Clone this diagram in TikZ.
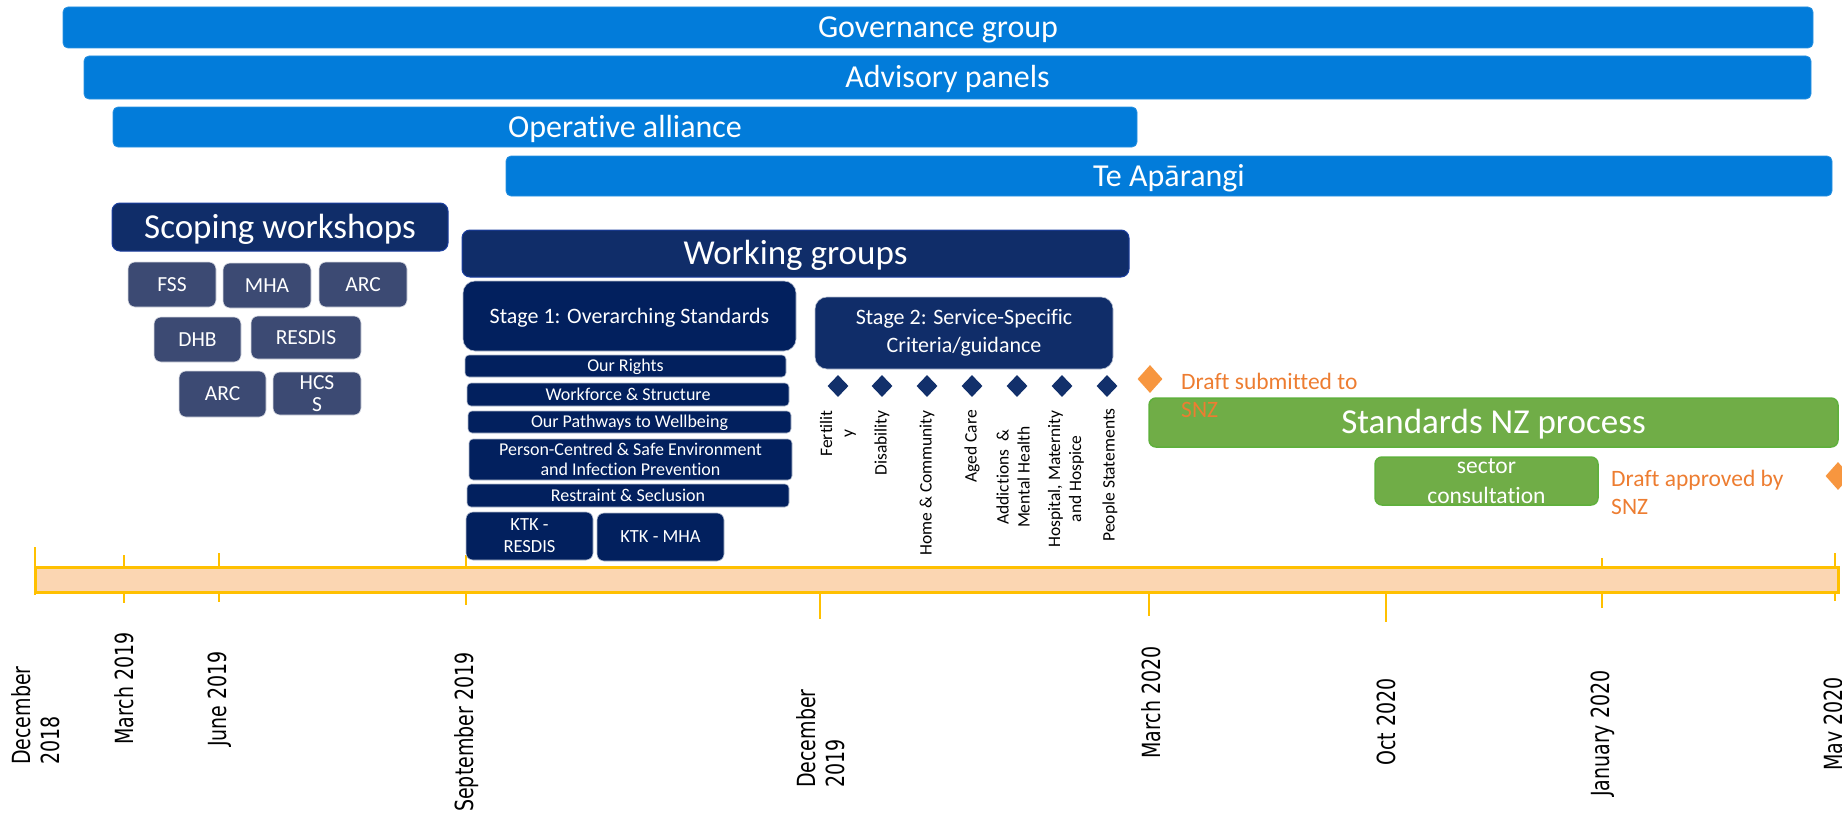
\documentclass[tikz,border=0pt]{standalone}
\usepackage{fontspec}
\setmainfont[Ligatures={NoCommon}]{Carlito}
\newfontfamily\axisfont[FakeStretch=0.76]{DejaVu Sans}
\usetikzlibrary{shapes.geometric}
\definecolor{barblue}{HTML}{027CDA}
\definecolor{navyA}{HTML}{102D69}
\definecolor{navyB}{HTML}{02205E}
\definecolor{navyline}{HTML}{1C3FA0}
\definecolor{slate}{HTML}{3C4A73}
\definecolor{gfill}{HTML}{70AD47}
\definecolor{gline}{HTML}{5FB03C}
\definecolor{odiam}{HTML}{F7963F}
\definecolor{otxt}{HTML}{ED7D31}
\definecolor{peach}{HTML}{FBD6B2}
\definecolor{gold}{HTML}{FFC000}
\definecolor{dnavy}{HTML}{12306B}
\newcommand\myfs[2]{\fontsize{#1}{#2}\selectfont}
\begin{document}
\begin{tikzpicture}[x=1pt,y=-1pt,
  wh/.style 2 args={minimum width=#1pt,minimum height=#2pt},
  bluebar/.style={fill=barblue,draw=barblue!85!white,line width=0.8pt,rounded corners=5pt,text=white,inner sep=0pt,font=\myfs{32}{38},text height=20.6pt,text depth=0pt},
  bigbox/.style={fill=navyA,draw=navyline,line width=1pt,rounded corners=8pt,text=white,inner sep=0pt,font=\myfs{35}{40},text height=22.5pt,text depth=0pt},
  slatebox/.style={fill=slate,draw=white!80!slate,line width=0.6pt,rounded corners=7pt,text=white,inner sep=0pt,align=center,font=\myfs{21.5}{22}},
  one/.style={text height=#1pt,text depth=0pt},
  stagebox/.style={fill=navyB,draw=white!70!navyB,line width=0.6pt,rounded corners=12pt,text=white,inner sep=0pt,align=center,font=\myfs{22}{27}},
  rowbox/.style={fill=navyB,draw=white!70!navyB,line width=0.6pt,rounded corners=4pt,text=white,inner sep=0pt,align=center,font=\myfs{18}{20.5}},
  ktkbox/.style={fill=navyB,draw=white!70!navyB,line width=0.6pt,rounded corners=7pt,text=white,inner sep=0pt,align=center,font=\myfs{18.5}{22}},
  s2box/.style={fill=navyA,draw=white!70!navyA,line width=0.6pt,rounded corners=12pt,text=white,inner sep=0pt,align=center,font=\myfs{22}{28}},
  ndiam/.style={diamond,fill=dnavy,inner sep=0pt,minimum width=21pt,minimum height=22pt},
  odiamond/.style={diamond,fill=odiam,inner sep=0pt,minimum width=25pt,minimum height=28pt},
  vlab/.style={rotate=90,anchor=east,inner sep=0pt,align=center,font=\myfs{17.5}{21}},
  greenbox/.style={fill=gfill,draw=gline,line width=1.5pt,rounded corners=7pt,text=white,inner sep=0pt,align=center},
  otext/.style={text=otxt,anchor=north west,inner sep=0pt,align=left,font=\myfs{23.5}{28}},
  tick/.style={draw=gold,line width=1.4pt},
  axlab/.style={rotate=90,anchor=west,inner sep=0pt,align=left,font=\axisfont\myfs{25}{29}}
]
\useasboundingbox (0,0) rectangle (1842,816);

% blue bars
\node[bluebar,wh={1750}{41}] (gov) at (938,27.5) {Governance group};
\node[bluebar,wh={1727}{43}] (adv) at (947.5,77.5) {Advisory panels};
\node[bluebar,wh={1024}{40}] (op) at (625,127) {Operative alliance};
\node[bluebar,wh={1326}{40}] (te) at (1169,176) {Te Apārangi};

% scoping workshops
\node[bigbox,wh={336}{48}] (scope) at (280,227) {Scoping workshops};
\node[slatebox,one=13.8,wh={88}{45}] (fss) at (172,284.5) {FSS};
\node[slatebox,one=13.8,wh={88}{45}] (mha) at (267,285.5) {MHA};
\node[slatebox,one=13.8,wh={88}{45}] (arc) at (363,284.5) {ARC};
\node[slatebox,one=13.8,wh={87}{45}] (dhb) at (197.5,339.5) {DHB};
\node[slatebox,one=13.8,wh={110}{43}] (resdis) at (306,337.5) {RESDIS};
\node[slatebox,one=13.8,wh={87}{46}] (arcb) at (222.5,394) {ARC};
\node[slatebox,wh={88}{43}] (hcss) at (317,393.5) {HCS\\S};

% ticks (behind)
\coordinate (t0a) at (35,547);   \coordinate (t0b) at (35,595);
\coordinate (t1a) at (124,555);  \coordinate (t1b) at (124,603);
\coordinate (t2a) at (219,553);  \coordinate (t2b) at (219,602);
\coordinate (t3a) at (466,555);  \coordinate (t3b) at (466,605);
\coordinate (t4a) at (820,592);  \coordinate (t4b) at (820,619);
\coordinate (t5a) at (1149,592); \coordinate (t5b) at (1149,616);
\coordinate (t6a) at (1386,592); \coordinate (t6b) at (1386,622);
\coordinate (t7a) at (1602,558); \coordinate (t7b) at (1602,608);
\coordinate (t8a) at (1835,553); \coordinate (t8b) at (1835,601);
\foreach \i in {0,...,8} {\draw[tick] (t\i a) -- (t\i b);}

% working groups
\node[bigbox,wh={667}{47}] (wg) at (795.5,253.5) {Working groups};
\node[stagebox,one=14.2,wh={333}{70}] (s1) at (629.5,316) {Stage 1: Overarching Standards};
\node[rowbox,one=11.6,wh={321}{22}] (r1) at (625.5,366) {Our Rights};
\node[rowbox,one=11.6,wh={322}{23}] (r2) at (628,394.5) {Workforce \& Structure};
\node[rowbox,one=11.6,wh={323}{22}] (r3) at (629.5,422) {Our Pathways to Wellbeing};
\node[rowbox,wh={323}{41}] (r4) at (630.5,459.5) {Person-Centred \& Safe Environment\\and Infection Prevention};
\node[rowbox,one=11.6,wh={322}{23}] (r5) at (628,495.5) {Restraint \& Seclusion};
\node[ktkbox,wh={127}{48}] (k1) at (529.5,536) {KTK -\\RESDIS};
\node[ktkbox,one=11.9,wh={127}{48}] (k2) at (660.5,537) {KTK - MHA};

% stage 2
\node[s2box,wh={298}{72}] (s2) at (964,333) {Stage 2: Service-Specific\\Criteria/guidance};
\node[ndiam] (d1) at (838,386) {};
\node[ndiam] (d2) at (882,386) {};
\node[ndiam] (d3) at (927,386) {};
\node[ndiam] (d4) at (972,386) {};
\node[ndiam] (d5) at (1017,386) {};
\node[ndiam] (d6) at (1062,386) {};
\node[ndiam] (d7) at (1107,386) {};
\node[vlab] (l1) at (838,410) {Fertilit\\y};
\node[vlab] (l2) at (882,410) {Disability};
\node[vlab] (l3) at (927,410) {Home \& Community};
\node[vlab] (l4) at (972,410) {Aged Care};
\node[vlab] (l5) at (1013,426) {Addictions\ \ \&\\Mental Health};
\node[vlab] (l6) at (1066,410) {Hospital, Maternity\\and Hospice};
\node[vlab] (l7) at (1110,408) {People Statements};

% standards NZ
\node[greenbox,one=22.5,wh={689}{49},font=\myfs{35}{40}] (snz) at (1493.5,422.5) {Standards NZ process};
\node[greenbox,wh={223}{48},font=\myfs{23.5}{30}] (sector) at (1486.5,481) {sector\\consultation};
\node[odiamond] (od1) at (1150,379) {};
\node[otext] (dsub) at (1181,373) {Draft submitted to\\SNZ};
\node[odiamond] (od2) at (1838,476) {};
\node[otext] (dapp) at (1611,470) {Draft approved by\\SNZ};

% timeline bar
\draw[fill=peach,draw=gold,line width=3pt] (35,567) rectangle (1838,592);

% axis labels
\node[axlab] (a0) at (35.5,765) {December\\2018};
\node[axlab] (a1) at (124,745) {March 2019};
\node[axlab] (a2) at (220,747) {June 2019};
\node[axlab] (a3) at (467,812) {September 2019};
\node[axlab] (a4) at (821,788) {December\\2019};
\node[axlab] (a5) at (1151,759) {March 2020};
\node[axlab] (a6) at (1386,766) {Oct 2020};
\node[axlab] (a7) at (1603,797) {January 2020};
\node[axlab] (a8) at (1836,771) {May 2020};
\end{tikzpicture}
\end{document}
